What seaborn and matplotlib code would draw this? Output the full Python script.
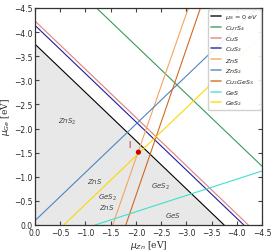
import matplotlib
matplotlib.use("Agg")
import matplotlib.pyplot as plt
import seaborn as sns
import pandas as pd

sns.set_style("ticks")
plt.rcParams['font.family'] = ['DejaVu Sans']

# line endpoints (mu_Zn, mu_Ge) for each boundary
labels = [r'$\mu_S$ = 0 $eV$', r'$Cu_7S_4$', r'$CuS$', r'$CuS_2$', r'$ZnS$',
          r'$ZnS_2$', r'$Cu_2GeS_3$', r'$GeS$', r'$GeS_2$']
colors = ['#000000', '#3a9a5c', '#e08080', '#1f1f9a', '#f4a460',
          '#4a86c0', '#d2691e', '#40e0d0', '#ffd700']
zn_start = [0.0, -1.22, 0.0, 0.0, -1.54, 0.0, -1.80, -1.19, -0.57]
ge_start = [-3.75, -4.5, -4.23, -4.14, 0.0, -0.09, 0.0, 0.0, 0.0]
zn_end = [-3.75, -4.5, -4.23, -4.14, -3.04, -4.41, -3.28, -4.5, -4.5]
ge_end = [0.0, -1.22, 0.0, 0.0, -4.5, -4.5, -4.5, -1.12, -3.93]

point_zn = [-2.05]
point_ge = [-1.51]

region_text = [r'$ZnS_2$', r'$ZnS$', r'$GeS_2$' + '\n' + r'$ZnS$', r'$GeS_2$', r'$GeS$']
region_zn = [-0.63, -1.19, -1.43, -2.48, -2.74]
region_ge = [-2.16, -0.93, -0.49, -0.82, -0.21]

rows = []
for lab, a, b, c, d in zip(labels, zn_start, ge_start, zn_end, ge_end):
    rows.append((lab, a, b))
    rows.append((lab, c, d))
df = pd.DataFrame(rows, columns=['compound', 'mu_Zn', 'mu_Ge'])

fig = plt.figure(figsize=(2.74, 2.51), dpi=100)
ax = fig.add_axes([35/274, 1-226/251, 227/274, 217/251])

# stability triangle
ax.fill([0, zn_end[0], zn_start[0]], [0, ge_end[0], ge_start[0]],
        color='#e8e8e8', zorder=0, lw=0)

sns.lineplot(data=df, x='mu_Zn', y='mu_Ge', hue='compound', hue_order=labels,
             palette=dict(zip(labels, colors)), estimator=None, sort=False,
             lw=0.8, ax=ax)

sns.scatterplot(x=point_zn, y=point_ge, color='#cc0000', s=14, edgecolor='none',
                ax=ax, zorder=5)
ax.text(point_zn[0] + 0.18, point_ge[0] - 0.15, 'I', color='#b00000', fontsize=5.5,
        ha='center', va='center')

for t, x, y in zip(region_text, region_zn, region_ge):
    ax.text(x, y, t, fontsize=5, color='#444444', ha='center', va='center',
            linespacing=1.1)

ax.set_xlim(0, -4.5)
ax.set_ylim(0, -4.5)
ticks = [0.0, -0.5, -1.0, -1.5, -2.0, -2.5, -3.0, -3.5, -4.0, -4.5]
ax.set_xticks(ticks)
ax.set_yticks(ticks)
ax.set_xticklabels([f'{t:.1f}'.replace('-', '\u2212') for t in ticks])
ax.set_yticklabels([f'{t:.1f}'.replace('-', '\u2212') for t in ticks])
ax.tick_params(direction='in', top=True, right=True, labelsize=5.5,
               length=3, width=0.8, color='#444444', pad=2)
for s in ax.spines.values():
    s.set_color('#333333')
    s.set_linewidth(0.9)

ax.set_xlabel(r'$\mu_{Zn}$ [eV]', fontsize=6.5, family='DejaVu Serif', labelpad=1)
ax.set_ylabel(r'$\mu_{Ge}$ [eV]', fontsize=6.5, family='DejaVu Serif', labelpad=1)

leg = ax.legend(loc='upper right', fontsize=4.6, handlelength=1.6,
                labelspacing=0.35, borderpad=0.4, handletextpad=0.6,
                framealpha=0.9, edgecolor='#cccccc', fancybox=True,
                borderaxespad=0.2)
for h in leg.get_lines():
    h.set_linewidth(1.2)
    h.set_alpha(0.8)

fig.savefig('out.png', dpi=100)
